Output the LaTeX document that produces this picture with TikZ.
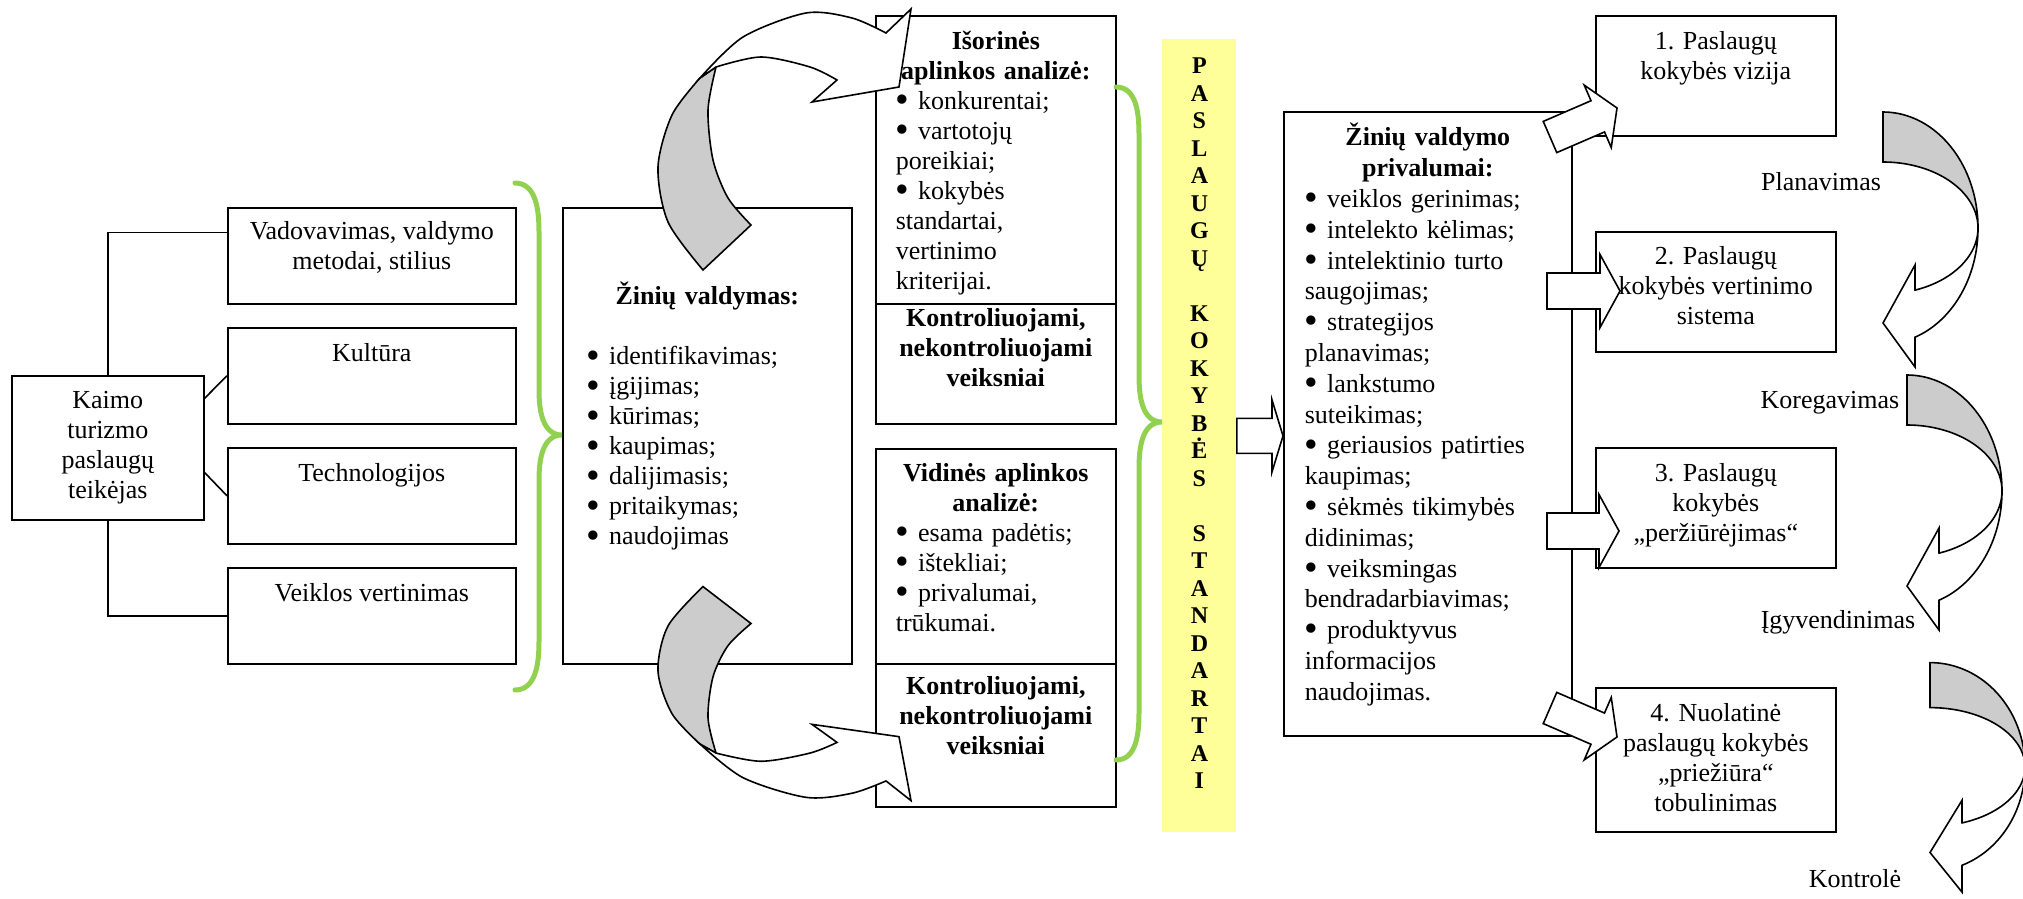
\documentclass[tikz,border=0pt]{standalone}
\usepackage{fontspec}
\setmainfont{Liberation Serif}
\usetikzlibrary{positioning,calc}

\definecolor{bracegreen}{RGB}{146,208,80}
\definecolor{stdyellow}{RGB}{255,255,153}
\definecolor{ribbongray}{RGB}{204,204,204}

\newcommand{\itm}{\raisebox{-0.12em}{\scalebox{1.5}{\textbullet}}~}

% curved ribbon arrow at the right side (centre x, centre y, yscale)
\newcommand{\ribbonR}[3]{%
  \begin{scope}[shift={(#1,#2)},yscale=#3]
    \filldraw[ribbon,fill=ribbongray] plot[domain=90:0,samples=40] ({95*cos(\x)},{-116*sin(\x)})
      -- plot[domain=0:90,samples=40] ({95*cos(\x)},{-66*sin(\x)}) -- cycle;
    \filldraw[ribbon,fill=white] plot[domain=0:-70.3,samples=40] ({95*cos(\x)},{-116*sin(\x)})
      -- (32,139) -- (0,95) -- (32,37)
      -- plot[domain=-70.3:0,samples=40] ({95*cos(\x)},{-66*sin(\x)}) -- cycle;
  \end{scope}}

% curved ribbon arrow in the middle column
\newcommand{\ribbonM}{%
  \filldraw[ribbon,fill=ribbongray] plot[smooth] coordinates {(703,270) (668,222) (658,167) (672,115) (700,78)}
    -- (716,67) -- plot[smooth] coordinates {(716,67) (708,110) (713,160) (728,198) (751,225)} -- cycle;
  \filldraw[ribbon,fill=white] plot[smooth] coordinates {(700,78) (743,37) (806,13) (852,18) (886,33)}
    -- (911,9) -- (899,87) -- (812,102) -- (837,80)
    -- plot[smooth] coordinates {(837,80) (810,67) (761,57) (716,67)} -- cycle;}

% hollow block arrow: from, to, half shaft, half head, head length
\newcommand{\blockarrow}[5]{%
  \coordinate (ba) at ($(#2)!#5!(#1)$);
  \filldraw[blockarr] ($(#1)!#3!90:(#2)$) -- ($(ba)!#3!90:(#2)$) -- ($(ba)!#4!90:(#2)$)
    -- (#2) -- ($(ba)!#4!-90:(#2)$) -- ($(ba)!#3!-90:(#2)$) -- ($(#1)!#3!-90:(#2)$) -- cycle;}

\begin{document}
\begin{tikzpicture}[x=0.5pt,y=-0.5pt, every node/.style={font=\fontsize{13}{15}\selectfont},
  box/.style={draw,line width=0.8pt,inner sep=0pt,anchor=north west},
  factor/.style={box,minimum width=144pt,minimum height=48pt},
  stage/.style={box,minimum width=120pt,minimum height=60pt},
  txt/.style={inner sep=0pt,align=center},
  btxt/.style={txt,font=\fontsize{13}{15}\selectfont\bfseries},
  conn/.style={line width=0.8pt},
  gbrace/.style={draw=bracegreen,line width=2.5pt,line cap=round},
  ribbon/.style={line width=0.8pt},
  blockarr/.style={draw,fill=white,line width=0.8pt}]
\useasboundingbox (0,0) rectangle (2023,899);
\clip (0,0) rectangle (2023,899);

% boxes
\node[box,minimum width=96pt,minimum height=72pt,align=center] (kaimo) at (11,375) {Kaimo\\turizmo\\paslaugų\\teikėjas};
\node[factor] (vad) at (227,207) {};
\node[factor] (kult) at (227,327) {};
\node[factor] (tech) at (227,447) {};
\node[factor] (veik) at (227,567) {};

\node[box,minimum width=144.5pt,minimum height=228pt] (ziniu) at (562,207) {};
\node[box,minimum width=120pt,minimum height=144pt] (isorA) at (875,15) {};
\node[box,minimum width=120pt,minimum height=60pt] (isorB) at (875,303) {};
\node[box,minimum width=120pt,minimum height=107.5pt] (vidA) at (875,448) {};
\node[box,minimum width=120pt,minimum height=71.5pt] (vidB) at (875,663) {};
\node[fill=stdyellow,inner sep=0pt,anchor=north west,minimum width=37pt,minimum height=396.5pt] (stdr) at (1162,39) {};

\node[box,minimum width=144pt,minimum height=312pt] (priv) at (1283,111) {};
\node[stage] (st1) at (1595,15) {};
\node[stage] (st2) at (1595,231) {};
\node[stage] (st3) at (1595,447) {};
\node[stage,minimum height=72pt] (st4) at (1595,687) {};

% braces
\draw[gbrace] (515,183) to[out=0,in=90] (539,232) -- (539,390) to[out=-90,in=180] (562,435)
  to[out=180,in=90] (539,480) -- (539,641) to[out=-90,in=0] (515,690);
\draw[gbrace] (1116,87) to[out=0,in=90] (1139,135) -- (1139,375) to[out=-90,in=180] (1162,422)
  to[out=180,in=90] (1139,469) -- (1139,712) to[out=-90,in=0] (1116,760);

% connectors
\draw[conn] (kaimo.north) |- ($(vad.north west)!0.26!(vad.south west)$);
\draw[conn] (kaimo.south) |- (veik.west);
\draw[conn] ($(kaimo.north east)!0.16!(kaimo.south east)$) -- (kult.west);
\draw[conn] ($(kaimo.north east)!0.67!(kaimo.south east)$) -- (tech.west);

% arrows
\ribbonM
\begin{scope}[shift={(0,808)},yscale=-0.82]
  \ribbonM
\end{scope}

\coordinate (a0e) at (priv.west |- stdr.east);
\coordinate (a1s) at (1550,137);
\coordinate (a1e) at (1617,108);
\coordinate (a2s) at (1547,291);
\coordinate (a2e) at (1620,291);
\coordinate (a3s) at (1547,531);
\coordinate (a3e) at (1619,531);
\coordinate (a4s) at (1550,708);
\coordinate (a4e) at (1617,737);
\blockarrow{stdr.east}{a0e}{8.75pt}{18pt}{5.5pt}
\blockarrow{a1s}{a1e}{8.5pt}{17pt}{10.5pt}
\blockarrow{a2s}{a2e}{9pt}{18.25pt}{10pt}
\blockarrow{a3s}{a3e}{9pt}{18.25pt}{10pt}
\blockarrow{a4s}{a4e}{8.5pt}{17pt}{10.5pt}

\ribbonR{1883}{228}{1}
\ribbonR{1907}{491}{1}
\ribbonR{1930}{767}{0.9}

% texts
\node[txt,below=5.5pt of vad.north] (vad-t) {\strut Vadovavimas, valdymo\\metodai, stilius};
\node[txt,below=6.5pt of kult.north] (kult-t) {\strut Kultūra};
\node[txt,below=6.5pt of tech.north] (tech-t) {\strut Technologijos};
\node[txt,below=6.5pt of veik.north] (veik-t) {\strut Veiklos vertinimas};

\node[txt,text width=120.5pt,align=left,below=37.5pt of ziniu.north] (ziniu-t)
  {{\centering\bfseries\strut Žinių valdymas:\par}\vspace{15pt}%
   \itm identifikavimas;\\\itm įgijimas;\\\itm kūrimas;\\\itm kaupimas;\\\itm dalijimasis;\\\itm pritaikymas;\\\itm naudojimas};
\node[txt,text width=100pt,align=left,below=6.5pt of isorA.north] (isorA-t)
  {{\centering\bfseries\strut Išorinės\\aplinkos analizė:\par}%
   \itm konkurentai;\\\itm vartotojų\\poreikiai;\\\itm kokybės\\standartai,\\vertinimo\\kriterijai.};
\node[btxt,below=1pt of isorB.north] (isorB-t) {\strut Kontroliuojami,\\nekontroliuojami\\veiksniai};
\node[txt,text width=100pt,align=left,below=6pt of vidA.north] (vidA-t)
  {{\centering\bfseries\strut Vidinės aplinkos\\analizė:\par}%
   \itm esama padėtis;\\\itm ištekliai;\\\itm privalumai,\\trūkumai.};
\node[btxt,below=5pt of vidB.north] (vidB-t) {\strut Kontroliuojami,\\nekontroliuojami\\veiksniai};

\node[txt,font=\fontsize{12}{13.75}\selectfont\bfseries,below=7.5pt of stdr.north] (stdr-t)
  {\strut P\\A\\S\\L\\A\\U\\G\\Ų\\[13.75pt]K\\O\\K\\Y\\B\\Ė\\S\\[13.75pt]S\\T\\A\\N\\D\\A\\R\\T\\A\\I};

\node[txt,font=\fontsize{13}{15.4}\selectfont,text width=123pt,align=left,below=6pt of priv.north] (priv-t)
  {{\centering\bfseries\strut Žinių valdymo\\privalumai:\par}%
   \itm veiklos gerinimas;\\\itm intelekto kėlimas;\\\itm intelektinio turto\\saugojimas;\\\itm strategijos\\planavimas;\\%
   \itm lankstumo\\suteikimas;\\\itm geriausios patirties\\kaupimas;\\\itm sėkmės tikimybės\\didinimas;\\%
   \itm veiksmingas\\bendradarbiavimas;\\\itm produktyvus\\informacijos\\naudojimas.};

\node[txt,below=6.5pt of st1.north] (st1-t) {\strut 1. Paslaugų\\kokybės vizija};
\node[txt,below=6pt of st2.north] (st2-t) {\strut 2. Paslaugų\\kokybės vertinimo\\sistema};
\node[txt,below=6.5pt of st3.north] (st3-t) {\strut 3. Paslaugų\\kokybės\\„peržiūrėjimas“};
\node[txt,below=6.5pt of st4.north] (st4-t) {\strut 4. Nuolatinė\\paslaugų kokybės\\„priežiūra“\\tobulinimas};

\node[txt] (plan) at (1821,185) {\strut Planavimas};
\node[txt] (koreg) at (1830,402) {\strut Koregavimas};
\node[txt] (igyv) at (1838,622) {\strut Įgyvendinimas};
\node[txt] (kontr) at (1855,881) {\strut Kontrolė};
\end{tikzpicture}
\end{document}
